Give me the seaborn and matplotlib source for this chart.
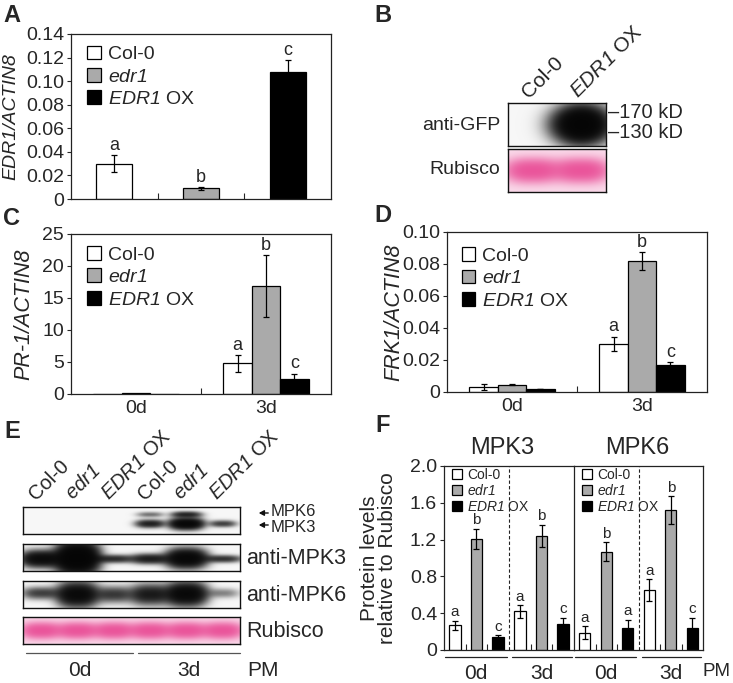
import numpy as np
import pandas as pd
import matplotlib
matplotlib.use("Agg")
import matplotlib.pyplot as plt
import seaborn as sns
from matplotlib.container import BarContainer

sns.set_theme(style="ticks")
plt.rcParams["font.family"] = ["Liberation Sans", "DejaVu Sans"]
plt.rcParams["mathtext.fontset"] = "custom"
plt.rcParams["mathtext.rm"] = "Liberation Sans:italic"
plt.rcParams["mathtext.it"] = "Liberation Sans:italic"
plt.rcParams["axes.linewidth"] = 0.9
plt.rcParams["axes.edgecolor"] = "#222222"

# ---------------- data ----------------
genotypes = ["Col-0", "edr1", "EDR1 OX"]
geno_labels = ["Col-0", r"$\mathrm{edr1}$", r"$\mathrm{EDR1}$ OX"]
colors = ["#FFFFFF", "#AAAAAA", "#000000"]
days = ["0d", "3d"]

# A: EDR1/ACTIN8
a_mean = [0.030, 0.009, 0.108]
a_err = [0.007, 0.001, 0.010]
a_letters = ["a", "b", "c"]
a_ticks = [0, 0.02, 0.04, 0.06, 0.08, 0.10, 0.12, 0.14]
a_ticklabels = ["0", "0.02", "0.04", "0.06", "0.08", "0.10", "0.12", "0.14"]

# C: PR-1/ACTIN8  (rows genotype, cols day)
c_mean = [[0.03, 4.8], [0.12, 16.9], [0.03, 2.4]]
c_err = [[0.0, 1.3], [0.0, 4.8], [0.0, 0.8]]
c_letters = [["", "a"], ["", "b"], ["", "c"]]
c_ticks = [0, 5, 10, 15, 20, 25]

# D: FRK1/ACTIN8
d_mean = [[0.0030, 0.0300], [0.0045, 0.0820], [0.0018, 0.0170]]
d_err = [[0.0020, 0.0045], [0.0003, 0.0055], [0.0002, 0.0015]]
d_letters = [["", "a"], ["", "b"], ["", "c"]]
d_ticks = [0, 0.02, 0.04, 0.06, 0.08, 0.10]
d_ticklabels = ["0", "0.02", "0.04", "0.06", "0.08", "0.10"]

# F: protein levels relative to Rubisco (rows genotype, cols day)
f_mpk3_mean = [[0.27, 0.42], [1.21, 1.24], [0.14, 0.28]]
f_mpk3_err = [[0.05, 0.07], [0.11, 0.12], [0.02, 0.07]]
f_mpk3_letters = [["a", "a"], ["b", "b"], ["c", "c"]]
f_mpk6_mean = [[0.19, 0.65], [1.07, 1.52], [0.24, 0.24]]
f_mpk6_err = [[0.07, 0.12], [0.10, 0.15], [0.09, 0.11]]
f_mpk6_letters = [["a", "a"], ["b", "b"], ["a", "c"]]
f_ticks = [0, 0.4, 0.8, 1.2, 1.6, 2.0]
f_ticklabels = ["0", "0.4", "0.8", "1.2", "1.6", "2.0"]

# Blot lanes / band intensities: (lane, y-centre, amplitude, half-width, half-height)
b_lanes = ["Col-0", r"$\mathrm{EDR1}$ OX"]
b_gfp_bands = [(1, 0.50, 2.4, 0.47, 0.36)]
b_rub_bands = [(0, 0.50, 1.0, 0.50, 0.24), (1, 0.50, 1.0, 0.50, 0.24)]

e_lanes = ["Col-0", r"$\mathrm{edr1}$", r"$\mathrm{EDR1}$ OX",
           "Col-0", r"$\mathrm{edr1}$", r"$\mathrm{EDR1}$ OX"]
e_phospho_bands = [(3, 0.28, 0.30, 0.34, 0.09), (3, 0.62, 0.85, 0.36, 0.13),
                   (4, 0.28, 0.75, 0.38, 0.10), (4, 0.62, 1.70, 0.42, 0.18),
                   (5, 0.62, 0.55, 0.34, 0.11)]
e_mpk3_bands = [(0, 0.55, 1.4, 0.50, 0.26), (1, 0.52, 2.4, 0.52, 0.50),
                (2, 0.55, 0.70, 0.50, 0.13), (3, 0.55, 0.90, 0.48, 0.16),
                (4, 0.53, 1.7, 0.50, 0.30), (5, 0.55, 0.65, 0.48, 0.12)]
e_mpk6_bands = [(0, 0.45, 0.55, 0.48, 0.20), (1, 0.50, 1.5, 0.50, 0.38),
                (2, 0.50, 0.60, 0.48, 0.26), (3, 0.50, 0.95, 0.50, 0.32),
                (4, 0.48, 1.6, 0.50, 0.36), (5, 0.45, 0.25, 0.42, 0.16)]
e_rub_bands = [(i, 0.52, 1.0, 0.50, 0.25) for i in range(6)]

W, H = 733, 683
fig = plt.figure(figsize=(W / 100, H / 100), dpi=100)


def add_ax(x0, y0, x1, y1):
    return fig.add_axes([x0 / W, 1 - y1 / H, (x1 - x0) / W, (y1 - y0) / H])


def fp(x, y):
    return (x / W, 1 - y / H)


def bars(ax, df, x, order, width, dodge):
    sns.barplot(data=df, x=x, y="value", hue="genotype", order=order,
                hue_order=genotypes, palette=dict(zip(genotypes, colors)),
                width=width, dodge=dodge, saturation=1, edgecolor="black",
                linewidth=0.9, errorbar=None, legend=False, ax=ax)


def err_letters(ax, lookup, fs):
    conts = [c for c in ax.containers if isinstance(c, BarContainer)]
    for hi, cont in enumerate(conts):
        for p in cont.patches:
            xc = p.get_x() + p.get_width() / 2
            h = p.get_height()
            ci = int(round(xc))
            e, letter = lookup(hi, ci)
            if e > 0:
                ax.errorbar(xc, h, yerr=e, fmt="none", ecolor="black",
                            elinewidth=0.9, capsize=2.5, capthick=0.9, zorder=5)
            if letter:
                ax.annotate(letter, (xc, h + e), xytext=(0, 1.0),
                            textcoords="offset points", ha="center",
                            va="bottom", fontsize=fs)


def legend(ax, fx, fy, fs, hl, ls):
    conts = [c for c in ax.containers if isinstance(c, BarContainer)]
    ax.legend(conts, geno_labels, loc="upper left", bbox_to_anchor=(fx, fy),
              frameon=False, fontsize=fs, handlelength=hl, handleheight=hl,
              handletextpad=0.35, labelspacing=ls, borderpad=0,
              borderaxespad=0)


def style_axis(ax, ticks, labels, ylim, xlim, minor, fs=14):
    ax.set_ylim(*ylim)
    ax.set_xlim(*xlim)
    ax.set_yticks(ticks)
    ax.set_yticklabels(labels, fontsize=fs)
    ax.tick_params(axis="y", direction="out", length=3, width=0.8, pad=2)
    ax.tick_params(axis="x", which="major", length=0, labelsize=fs, pad=4)
    ax.set_xticks(minor, minor=True)
    ax.tick_params(axis="x", which="minor", direction="in", length=4,
                   width=0.8)
    for s in ax.spines.values():
        s.set_visible(True)
    ax.set_xlabel("")
    ax.set_ylabel("")


def blot(ax, nl, bands, kind="gray", bg=0.95, px=2.6):
    wi, hi = 80 * nl, 60
    xs = (np.arange(wi) + 0.5) / wi * nl
    ys = (np.arange(hi) + 0.5) / hi
    X, Y = np.meshgrid(xs, ys)
    s = np.zeros_like(X)
    for lane, yc, amp, hw, hh in bands:
        s += amp * np.exp(-(np.abs(X - (lane + 0.5)) / hw) ** px) * \
            np.exp(-((Y - yc) / hh) ** 2)
    if kind == "gray":
        v = bg * np.exp(-2.6 * s) + 0.02
        img = np.dstack([v, v, v])
    else:
        t = 1 - np.exp(-2.2 * s)
        bgc = np.array([0.98, 0.86, 0.92])
        bc = np.array([0.91, 0.27, 0.57])
        img = bgc + (bc - bgc) * t[..., None]
    ax.imshow(np.clip(img, 0, 1), extent=[0, nl, 1, 0], aspect="auto",
              interpolation="bilinear")
    ax.set_xlim(0, nl)
    ax.set_ylim(1, 0)
    ax.set_xticks([])
    ax.set_yticks([])
    for s_ in ax.spines.values():
        s_.set_linewidth(1.0)
        s_.set_color("#111111")


# ---------------- Panel A ----------------
axA = add_ax(71, 34, 331, 199)
dfA = pd.DataFrame({"genotype": genotypes, "value": a_mean})
bars(axA, dfA, "genotype", genotypes, 0.415, False)
style_axis(axA, a_ticks, a_ticklabels, (0, 0.14), (-0.5, 2.5), [0.5, 1.5])
axA.set_xticks([])
err_letters(axA, lambda h, c: (a_err[c], a_letters[c]), 13)
legend(axA, 0.062, 0.93, 14, 0.7, 0.25)
axA.set_ylabel("EDR1/ACTIN8", fontsize=14, style="italic")
axA.yaxis.set_label_coords(-0.198, 0.5)

# ---------------- Panel C ----------------
def long_df(means):
    rows = []
    for gi, g in enumerate(genotypes):
        for di, d in enumerate(days):
            rows.append({"genotype": g, "day": d, "value": means[gi][di]})
    return pd.DataFrame(rows)


axC = add_ax(71, 234, 331, 394)
bars(axC, long_df(c_mean), "day", days, 0.655, True)
style_axis(axC, c_ticks, [str(t) for t in c_ticks], (0, 25), (-0.5, 1.5), [0.5])
err_letters(axC, lambda h, c: (c_err[h][c], c_letters[h][c]), 13)
legend(axC, 0.062, 0.925, 14, 0.7, 0.25)
axC.set_ylabel("PR-1/ACTIN8", fontsize=15.5, style="italic")
axC.yaxis.set_label_coords(-0.14, 0.5)

# ---------------- Panel D ----------------
axD = add_ax(447, 232, 707, 392)
bars(axD, long_df(d_mean), "day", days, 0.655, True)
style_axis(axD, d_ticks, d_ticklabels, (0, 0.10), (-0.5, 1.5), [0.5])
err_letters(axD, lambda h, c: (d_err[h][c], d_letters[h][c]), 13)
legend(axD, 0.057, 0.905, 14, 0.7, 0.25)
axD.set_ylabel("FRK1/ACTIN8", fontsize=15.5, style="italic")
axD.yaxis.set_label_coords(-0.165, 0.5)

# ---------------- Panel F ----------------
slots = [d + "_" + g for d in days for g in genotypes]


def slot_df(means):
    rows = []
    for di, d in enumerate(days):
        for gi, g in enumerate(genotypes):
            rows.append({"genotype": g, "slot": d + "_" + g,
                         "value": means[gi][di]})
    return pd.DataFrame(rows)


axF1 = add_ax(444, 466, 574, 650)
axF2 = add_ax(574, 466, 703, 650)
for ax, mean, err, let, title, tx in [
        (axF1, f_mpk3_mean, f_mpk3_err, f_mpk3_letters, "MPK3", 0.45),
        (axF2, f_mpk6_mean, f_mpk6_err, f_mpk6_letters, "MPK6", 0.49)]:
    bars(ax, slot_df(mean), "slot", slots, 0.53, False)
    style_axis(ax, f_ticks, f_ticklabels, (0, 2.0), (-0.5, 5.5),
               [0.5, 1.5, 3.5, 4.5])
    ax.set_xticks([])
    ax.axvline(2.5, color="#222222", lw=0.8, ls=(0, (3, 2)))
    err_letters(ax, lambda h, c, e=err, l=let: (e[h][c // 3], l[h][c // 3]), 11)
    legend(ax, 0.06, 0.99, 10, 0.75, 0.1)
    ax.text(tx, 1.04, title, transform=ax.transAxes, ha="center",
            va="bottom", fontsize=17)
    for x0, x1, lab in [(-0.45, 2.4, "0d"), (2.65, 5.4, "3d")]:
        ax.plot([x0, x1], [-0.04, -0.04], color="#222222", lw=0.9,
                transform=ax.get_xaxis_transform(), clip_on=False)
        ax.text((x0 + x1) / 2, -0.075, lab, transform=ax.get_xaxis_transform(),
                ha="center", va="top", fontsize=15)
axF1.spines["right"].set_visible(False)
axF2.set_yticks([])
axF2.tick_params(axis="y", length=0)
axF1.set_ylabel("Protein levels\nrelative to Rubisco", fontsize=15,
                linespacing=0.95)
axF1.yaxis.set_label_coords(-0.36, 0.5)
fig.text(*fp(717, 672), "PM", ha="center", va="center", fontsize=13.5)

# ---------------- Panel B (blot) ----------------
axB1 = add_ax(508, 103, 606, 146)
blot(axB1, 2, b_gfp_bands, "gray", 0.95, px=2.0)
axB2 = add_ax(508, 149, 606, 192)
blot(axB2, 2, b_rub_bands, "pink")
fig.text(*fp(500, 126), "anti-GFP", ha="right", va="center", fontsize=14)
fig.text(*fp(500, 170), "Rubisco", ha="right", va="center", fontsize=14)
fig.text(*fp(608, 113), "\u2013170 kD", ha="left", va="center", fontsize=14.5)
fig.text(*fp(608, 133), "\u2013130 kD", ha="left", va="center", fontsize=14.5)
for i, lab in enumerate(b_lanes):
    cx = 508 + (i + 0.5) * 49
    fig.text(*fp(cx - 4, 99), lab, rotation=45, rotation_mode="anchor",
             ha="left", va="baseline", fontsize=15)

# ---------------- Panel E (blot) ----------------
e_boxes = [(507, 534, e_phospho_bands, "gray", None),
           (544, 571, e_mpk3_bands, "gray", "anti-MPK3"),
           (581, 608, e_mpk6_bands, "gray", "anti-MPK6"),
           (617, 644, e_rub_bands, "pink", "Rubisco")]
for y0, y1, bands_, kind, lab in e_boxes:
    axe = add_ax(23, y0, 240, y1)
    blot(axe, 6, bands_, kind, 0.95)
    if lab:
        fig.text(*fp(246, (y0 + y1) / 2 + 1), lab, ha="left", va="center",
                 fontsize=15.5)
for i, lab in enumerate(e_lanes):
    cx = 23 + (i + 0.5) * 217 / 6
    fig.text(*fp(cx - 5, 501), lab, rotation=45, rotation_mode="anchor",
             ha="left", va="baseline", fontsize=14.5)
for yy, lab in [(511, "MPK6"), (527, "MPK3")]:
    fig.text(*fp(271, yy), lab, ha="left", va="center", fontsize=12)
for yy in [513, 525]:
    fig.add_artist(matplotlib.patches.FancyArrowPatch(
        fp(271, yy), fp(256, yy), transform=fig.transFigure,
        arrowstyle="-|>,head_length=3,head_width=1.6", lw=1.0,
        color="#111111", mutation_scale=1))
for x0, x1, lab in [(26, 133, "0d"), (138, 240, "3d")]:
    fig.add_artist(matplotlib.lines.Line2D(
        [x0 / W, x1 / W], [1 - 653 / H, 1 - 653 / H], color="#555555",
        lw=0.9, transform=fig.transFigure))
    fig.text(*fp((x0 + x1) / 2, 670), lab, ha="center", va="center",
             fontsize=15)
fig.text(*fp(247, 670), "PM", ha="left", va="center", fontsize=15)

# ---------------- panel letters ----------------
for x, y, lab in [(12, 16, "A"), (383, 16, "B"), (12, 218, "C"),
                  (383, 216, "D"), (12, 431, "E"), (383, 425, "F")]:
    fig.text(*fp(x, y), lab, ha="center", va="center", fontsize=17,
             fontweight="bold")

fig.savefig("out.png", dpi=100)
